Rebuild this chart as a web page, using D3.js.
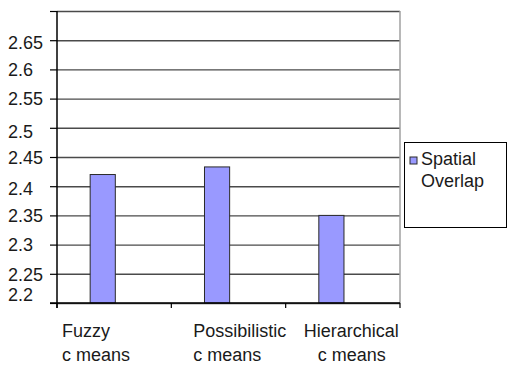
<!DOCTYPE html>
<html>
<head>
<meta charset="utf-8">
<script src="https://cdnjs.cloudflare.com/ajax/libs/d3/7.8.5/d3.min.js"></script>
<style>
  html, body { margin: 0; padding: 0; background: #fff; }
  svg { display: block; font-family: "Liberation Sans", Arial, sans-serif; }
</style>
</head>
<body>
<svg id="chart" width="509" height="367"></svg>
<script>
// Series values per clustering method
const categories = ["Fuzzy c means", "Possibilistic c means", "Hierarchical c means"];
const categoryLines = [["Fuzzy", "c means"], ["Possibilistic", "c means"], ["Hierarchical", "c means"]];
const values = [2.42, 2.433, 2.35];
const seriesLabel = ["Spatial", "Overlap"];
const gridValues = [2.2, 2.25, 2.3, 2.35, 2.4, 2.45, 2.5, 2.55, 2.6, 2.65, 2.7];
const tickLabels = [2.2, 2.25, 2.3, 2.35, 2.4, 2.45, 2.5, 2.55, 2.6, 2.65];

const svg = d3.select("#chart");
const plotLeft = 57, plotRight = 400, plotTop = 11, plotBottom = 303;

const x = d3.scaleBand().domain(categories).range([plotLeft, plotRight]);
const y = d3.scaleLinear().domain([2.2, 2.7]).range([plotBottom, plotTop]);

// Horizontal gridlines
const grid = svg.append("g")
  .attr("transform", `translate(${plotLeft},0)`)
  .call(d3.axisLeft(y).tickValues(gridValues).tickSize(-(plotRight - plotLeft)).tickFormat(""));
grid.select(".domain").remove();
grid.selectAll(".tick line").attr("stroke", "#4a4a4a").attr("stroke-width", 1.4);

// Right border of the plot area
svg.append("line")
  .attr("x1", plotRight).attr("x2", plotRight)
  .attr("y1", plotTop).attr("y2", plotBottom)
  .attr("stroke", "#a0a0a0").attr("stroke-width", 1.5);

// Bars
const bw = x.bandwidth();
svg.append("g").selectAll("rect")
  .data(values)
  .join("rect")
  .attr("x", (d, i) => x(categories[i]) + bw * 0.29)
  .attr("width", bw * 0.22)
  .attr("y", d => y(d))
  .attr("height", d => y(2.2) - y(d))
  .attr("fill", "#9999ff")
  .attr("stroke", "#2a2a2a")
  .attr("stroke-width", 1);

// Y axis with tick labels
const labelNudge = { "2.2": -9, "2.5": 3, "2.4": 2, "2.65": 2 };
const yAxis = svg.append("g")
  .attr("transform", `translate(${plotLeft},0)`)
  .call(d3.axisLeft(y).tickValues(gridValues).tickSize(7).tickPadding(0)
    .tickFormat(d => tickLabels.includes(+d.toFixed(2)) ? String(+d.toFixed(2)) : ""));
yAxis.select(".domain").attr("stroke", "#000").attr("stroke-width", 1.5).attr("d", `M0,${plotTop}V${plotBottom + 5}`);
yAxis.selectAll(".tick line").attr("stroke", "#000").attr("stroke-width", 1.2);
yAxis.selectAll(".tick text")
  .attr("x", -49)
  .attr("text-anchor", "start")
  .attr("dy", d => (0.35 + (labelNudge[String(+d.toFixed(2))] || 0) / 18) + "em")
  .attr("fill", "#1a1a1a")
  .style("font-size", "18px");

// X axis with category boundary ticks
const xAxis = svg.append("g")
  .attr("transform", `translate(0,${plotBottom})`);
xAxis.append("line")
  .attr("x1", plotLeft - 7).attr("x2", plotRight)
  .attr("stroke", "#000").attr("stroke-width", 1.5);
const bounds = categories.map(c => x(c)).concat([x(categories[categories.length - 1]) + bw]);
xAxis.selectAll("line.tk")
  .data(bounds)
  .join("line")
  .attr("class", "tk")
  .attr("x1", d => d).attr("x2", d => d)
  .attr("y1", 0).attr("y2", 5)
  .attr("stroke", "#000").attr("stroke-width", 1.2);

// Category labels (two lines each)
const lineOffsets = [[5, 5], [22, 22], [18, 32]];
categoryLines.forEach((lines, i) => {
  lines.forEach((t, j) => {
    svg.append("text")
      .attr("x", x(categories[i]) + lineOffsets[i][j])
      .attr("y", 337 + j * 24)
      .attr("fill", "#1a1a1a")
      .style("font-size", "18px")
      .text(t);
  });
});

// Legend
const legend = svg.append("g");
legend.append("rect")
  .attr("x", 404.5).attr("y", 142.5)
  .attr("width", 102).attr("height", 85)
  .attr("fill", "#fff").attr("stroke", "#000").attr("stroke-width", 1);
legend.append("rect")
  .attr("x", 410).attr("y", 157)
  .attr("width", 7).attr("height", 7)
  .attr("fill", "#9999ff").attr("stroke", "#2a2a2a").attr("stroke-width", 1);
seriesLabel.forEach((t, j) => {
  legend.append("text")
    .attr("x", 421)
    .attr("y", 165 + j * 22)
    .attr("fill", "#1a1a1a")
    .style("font-size", "18px")
    .text(t);
});
</script>
</body>
</html>
